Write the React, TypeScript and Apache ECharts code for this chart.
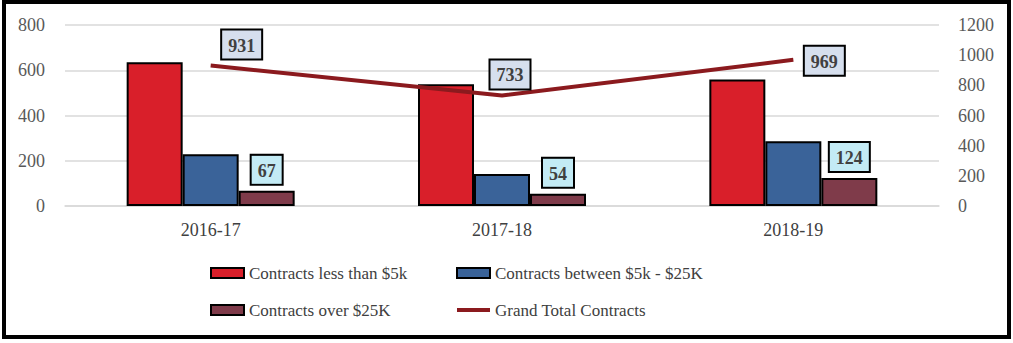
import React, { useEffect, useRef } from "react";
import * as echarts from "echarts";

const categories = ["2016-17", "2017-18", "2018-19"];
const lessThan5k = [635, 538, 559];
const between5k25k = [229, 141, 286];
const over25k = [67, 54, 124];
const grandTotal = [931, 733, 969];

const leftTicks = { min: 0, max: 800, interval: 200 };
const rightTicks = { min: 0, max: 1200, interval: 200 };

const FONT = "'Liberation Serif', serif";
const totalLabelOffsets: [number, number][] = [
  [31, 0],
  [8, 0],
  [31, 22],
];

export default function App() {
  const ref = useRef<HTMLDivElement>(null);
  useEffect(() => {
    document.body.style.margin = "0";
    const chart = echarts.init(ref.current!, undefined, { renderer: "svg" });
    const barBase = {
      type: "bar",
      barWidth: 56,
      barGap: "0%",
      yAxisIndex: 0,
    };
    const boxLabel = (bg: string) => ({
      show: true,
      fontFamily: FONT,
      fontWeight: "bold",
      fontSize: 18,
      color: "#404040",
      backgroundColor: bg,
      borderColor: "#000",
      borderWidth: 2,
      padding: [5, 6, 3, 6],
      lineHeight: 20,
    });
    const legendText = { fontFamily: FONT, fontSize: 17, color: "#404040", lineHeight: 20 };
    const lineIcon = "path://M0,0 L35,0 L35,4 L0,4 Z";
    chart.setOption({
      animation: false,
      grid: { left: 65, right: 74, top: 25, bottom: 137 },
      xAxis: {
        type: "category",
        data: categories,
        axisLine: { show: true, lineStyle: { color: "#d9d9d9", width: 1.5 } },
        axisTick: { show: false },
        axisLabel: { fontFamily: FONT, fontSize: 18, color: "#404040", margin: 15 },
      },
      yAxis: [
        {
          type: "value",
          ...leftTicks,
          axisLine: { show: false },
          axisTick: { show: false },
          splitLine: { lineStyle: { color: "#d9d9d9", width: 1.5 } },
          axisLabel: { fontFamily: FONT, fontSize: 18, color: "#595959", margin: 20 },
        },
        {
          type: "value",
          ...rightTicks,
          axisLine: { show: false },
          axisTick: { show: false },
          splitLine: { show: false },
          axisLabel: {
            fontFamily: FONT,
            fontSize: 18,
            color: "#595959",
            margin: 19,
            formatter: (v: number) => String(v),
          },
        },
      ],
      legend: [
        {
          left: 205,
          top: 258,
          orient: "vertical",
          itemWidth: 33,
          itemHeight: 10,
          itemGap: 17,
          textStyle: legendText,
          data: [
            { name: "Contracts less than $5k", icon: "rect" },
            { name: "Contracts over $25K", icon: "rect" },
          ],
        },
        {
          left: 451,
          top: 258,
          orient: "vertical",
          itemWidth: 33,
          itemHeight: 10,
          itemGap: 17,
          textStyle: legendText,
          data: [
            { name: "Contracts between $5k - $25K", icon: "rect" },
            { name: "Grand Total Contracts", icon: lineIcon },
          ],
        },
      ],
      series: [
        {
          ...barBase,
          name: "Contracts less than $5k",
          data: lessThan5k,
          itemStyle: { color: "#d91f2a", borderColor: "#000", borderWidth: 2 },
        },
        {
          ...barBase,
          name: "Contracts between $5k - $25K",
          data: between5k25k,
          itemStyle: { color: "#3a6399", borderColor: "#000", borderWidth: 2 },
        },
        {
          ...barBase,
          name: "Contracts over $25K",
          data: over25k,
          itemStyle: { color: "#7f3b4a", borderColor: "#000", borderWidth: 2 },
          label: { ...boxLabel("#c3ebf5"), position: "top", distance: 7 },
        },
        {
          type: "line",
          name: "Grand Total Contracts",
          yAxisIndex: 1,
          symbol: "circle",
          symbolSize: 0.01,
          showSymbol: true,
          lineStyle: { color: "#8b1a1e", width: 4 },
          itemStyle: { color: "#8b1a1e" },
          z: 5,
          data: grandTotal.map((v, i) => ({
            value: v,
            label: { offset: totalLabelOffsets[i] },
          })),
          label: { ...boxLabel("#d6dfee"), position: "top", distance: 7 },
        },
      ],
    });
    return () => chart.dispose();
  }, []);
  return (
    <div style={{ position: "relative", width: 1013, height: 343, background: "#fff" }}>
      <div ref={ref} style={{ position: "absolute", left: 0, top: 0, width: 1013, height: 343 }} />
      <div
        style={{
          position: "absolute",
          left: 2,
          top: 0,
          width: 1009,
          height: 339,
          border: "4px solid #000",
          boxSizing: "border-box",
          pointerEvents: "none",
        }}
      />
    </div>
  );
}
